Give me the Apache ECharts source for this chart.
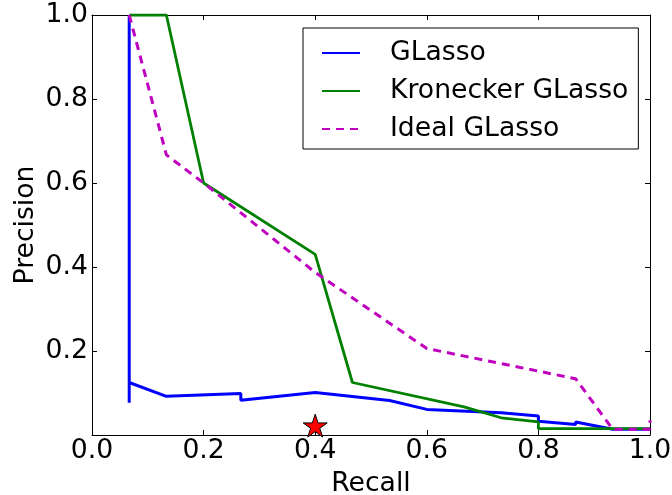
<!DOCTYPE html>
<html>
<head>
<meta charset="utf-8">
<script src="https://cdn.jsdelivr.net/npm/echarts@6/dist/echarts.min.js"></script>
<style>html,body{margin:0;padding:0;background:#fff}#c{width:672px;height:495px}</style>
</head>
<body>
<div id="c"></div>
<script>
// ---- data ----
const seriesNames = ['GLasso', 'Kronecker GLasso', 'Ideal GLasso'];

const glassoRecall    = [0.0667, 0.0667, 0.0667, 0.1333, 0.2667, 0.2667, 0.4, 0.5333, 0.6, 0.7333, 0.8, 0.8, 0.8667, 0.8667, 0.9333, 1.0];
const glassoPrecision = [1.0, 0.077, 0.125, 0.092, 0.099, 0.083, 0.101, 0.082, 0.061, 0.053, 0.045, 0.033, 0.025, 0.031, 0.0135, 0.0135];

const kronRecall    = [0.0667, 0.1333, 0.2, 0.4, 0.4667, 0.6667, 0.7333, 0.8, 0.8, 1.0];
const kronPrecision = [1.0, 1.0, 0.6, 0.43, 0.125, 0.067, 0.041, 0.031, 0.015, 0.015];

const idealRecall    = [0.0667, 0.1333, 0.2, 0.4, 0.6, 0.8667, 0.9333, 1.0, 1.0];
const idealPrecision = [1.0, 0.667, 0.6, 0.387, 0.206, 0.134, 0.0135, 0.0135, 0.035];

const starRecall = [0.4];
const starPrecision = [0.02];

const xTickLabels = ['0.0', '0.2', '0.4', '0.6', '0.8', '1.0'];
const yTickLabels = ['', '0.2', '0.4', '0.6', '0.8', '1.0'];

// ---- build ----
function pairs(xs, ys) { return xs.map((x, i) => [x, ys[i]]); }
const FONT = 'DejaVu Sans';
const FS = 26.67;
const starPath = 'path://M0,-10 L2.245,-3.09 L9.511,-3.09 L3.633,1.18 L5.878,8.09 L0,3.82 L-5.878,8.09 L-3.633,1.18 L-9.511,-3.09 L-2.245,-3.09 Z';

const baseAxis = {
  type: 'value', min: 0, max: 1, interval: 0.2,
  splitLine: { show: false },
  axisLine: { show: true, onZero: false, lineStyle: { color: '#000', width: 1 } },
  axisTick: { show: true, inside: true, length: 5, lineStyle: { color: '#000', width: 1 } }
};

const chart = echarts.init(document.getElementById('c'), null, { renderer: 'canvas' });
chart.setOption({
  animation: false,
  backgroundColor: '#fff',
  grid: { left: 92, right: 22, top: 15, bottom: 60, containLabel: false, outerBoundsMode: 'none' },
  xAxis: [
    Object.assign({}, baseAxis, {
      position: 'bottom',
      name: 'Recall', nameLocation: 'middle', nameGap: 36, nameMoveOverlap: false,
      nameTextStyle: { fontFamily: FONT, fontSize: FS, color: '#000' },
      axisLabel: { show: true, margin: 3, fontFamily: FONT, fontSize: FS, color: '#000',
        formatter: v => xTickLabels[Math.round(v / 0.2)] }
    }),
    Object.assign({}, baseAxis, { position: 'top', axisLabel: { show: false } })
  ],
  yAxis: [
    Object.assign({}, baseAxis, {
      position: 'left',
      name: 'Precision', nameLocation: 'middle', nameGap: 52, nameRotate: 90, nameMoveOverlap: false,
      nameTextStyle: { fontFamily: FONT, fontSize: FS, color: '#000' },
      axisLabel: { show: true, margin: 4, fontFamily: FONT, fontSize: FS, color: '#000',
        formatter: v => yTickLabels[Math.round(v / 0.2)] }
    }),
    Object.assign({}, baseAxis, { position: 'right', axisLabel: { show: false } })
  ],
  legend: {
    orient: 'vertical',
    left: 303, top: 28,
    padding: [10, 10, 5, 18],
    itemGap: 8,
    itemWidth: 38, itemHeight: 14,
    borderColor: '#000', borderWidth: 1, backgroundColor: '#fff',
    itemStyle: { opacity: 0 },
    textStyle: { fontFamily: FONT, fontSize: FS, color: '#000', lineHeight: 30, padding: [0, 0, 0, 25] },
    data: seriesNames
  },
  series: [
    { name: seriesNames[0], type: 'line', data: pairs(glassoRecall, glassoPrecision),
      symbol: 'none', color: '#0000ff', lineStyle: { color: '#0000ff', width: 3 } },
    { name: seriesNames[1], type: 'line', data: pairs(kronRecall, kronPrecision),
      symbol: 'none', color: '#008000', lineStyle: { color: '#008000', width: 2.8 } },
    { name: seriesNames[2], type: 'line', data: pairs(idealRecall, idealPrecision),
      symbol: 'none', color: '#bf00bf', lineStyle: { color: '#bf00bf', width: 3, type: [8, 6] } },
    { name: 'star', type: 'scatter', data: pairs(starRecall, starPrecision),
      symbol: starPath, symbolSize: 24, symbolKeepAspect: true, symbolOffset: [0, -1], clip: false,
      itemStyle: { color: '#ff0000', borderColor: '#000', borderWidth: 1, opacity: 1 }, z: 5 }
  ]
});
</script>
</body>
</html>
